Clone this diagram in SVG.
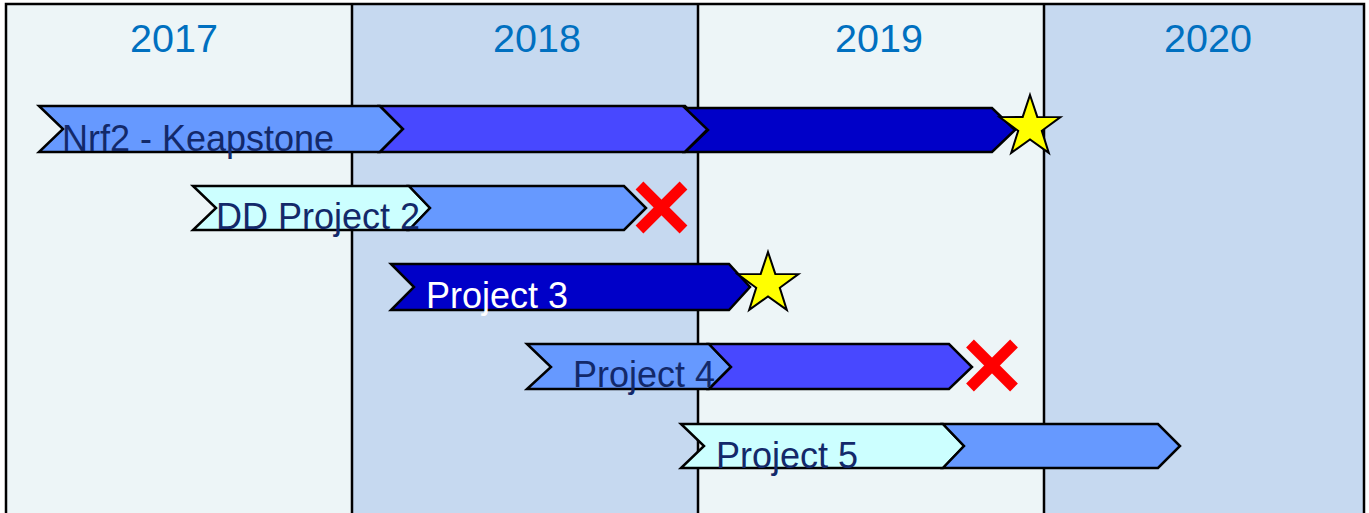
<svg xmlns="http://www.w3.org/2000/svg" width="1369" height="513" viewBox="0 0 1369 513">
<style>
.bgL{fill:#EDF5F7}
.bgB{fill:#C6D9F0}
.div{stroke:#000;stroke-width:2.5;fill:none}
.yr{font-family:"Liberation Sans",Arial,sans-serif;font-size:39.5px;fill:#0070C0;text-anchor:middle}
.seg{stroke:#000;stroke-width:2.5;stroke-linejoin:miter}
.c1{fill:#CCFFFF}
.c2{fill:#6699FF}
.c3{fill:#4848FF}
.c4{fill:#0000C8}
.lbl{font-family:"Liberation Sans",Arial,sans-serif;font-size:36px;fill:#13296A}
.lblW{font-family:"Liberation Sans",Arial,sans-serif;font-size:36px;fill:#FFFFFF}
.star{fill:#FFFF00;stroke:#000;stroke-width:2}
.x{stroke:#FF0000;stroke-width:11;stroke-linecap:butt}
</style>
<defs>
<polygon id="star5" points="0,-32 7.3,-10.1 30.4,-9.9 11.8,3.8 18.8,25.9 0,12.4 -18.8,25.9 -11.8,3.8 -30.4,-9.9 -7.3,-10.1"/>
<g id="xmark"><line x1="-22" y1="-22" x2="22" y2="22"/><line x1="22" y1="-22" x2="-22" y2="22"/></g>
</defs>
<g id="background">
<rect class="bgL" x="6" y="4" width="346" height="520"/>
<rect class="bgB" x="352" y="4" width="346" height="520"/>
<rect class="bgL" x="698" y="4" width="346" height="520"/>
<rect class="bgB" x="1044" y="4" width="320" height="520"/>
<rect class="div" x="6" y="4" width="1358" height="520"/>
<line class="div" x1="352" y1="4" x2="352" y2="513"/>
<line class="div" x1="698" y1="4" x2="698" y2="513"/>
<line class="div" x1="1044" y1="4" x2="1044" y2="513"/>
<text class="yr" x="174" y="52">2017</text>
<text class="yr" x="537" y="52">2018</text>
<text class="yr" x="879" y="52">2019</text>
<text class="yr" x="1208" y="52">2020</text>
</g>
<g id="connectors"></g>
<g id="nrf2">
<polygon class="seg c2" points="39,106 380,106 403,129 380,152 39,152 63,129"/>
<polygon class="seg c3" points="380,106 685,106 708,129 685,152 380,152 403,129"/>
<polygon class="seg c4" points="685,108 992,108 1015,130 992,152 685,152 708,130"/>
<text class="lbl" x="62" y="151">Nrf2 - Keapstone</text>
<use href="#star5" class="star" x="1030" y="127"/>
</g>
<g id="dd2">
<polygon class="seg c1" points="193,186 409,186 430,208 409,230 193,230 216,208"/>
<polygon class="seg c2" points="409,186 624,186 646,208 624,230 409,230 430,208"/>
<text class="lbl" x="216" y="229">DD Project 2</text>
<use href="#xmark" class="x" x="661.5" y="207.5"/>
</g>
<g id="p3">
<polygon class="seg c4" points="391,264 729,264 750,287 729,310 391,310 414,287"/>
<text class="lblW" x="426" y="308">Project 3</text>
<use href="#star5" class="star" x="768" y="284"/>
</g>
<g id="p4">
<polygon class="seg c2" points="527,344 709,344 731,367 709,389 527,389 551,367"/>
<polygon class="seg c3" points="709,344 949,344 972,367 949,389 709,389 731,367"/>
<text class="lbl" x="573" y="387">Project 4</text>
<use href="#xmark" class="x" x="992" y="365.5"/>
</g>
<g id="p5">
<polygon class="seg c1" points="681,424 943,424 964,446 943,468 681,468 704,446"/>
<polygon class="seg c2" points="943,424 1158,424 1180,446 1158,468 943,468 964,446"/>
<text class="lbl" x="716" y="468">Project 5</text>
</g>
</svg>
